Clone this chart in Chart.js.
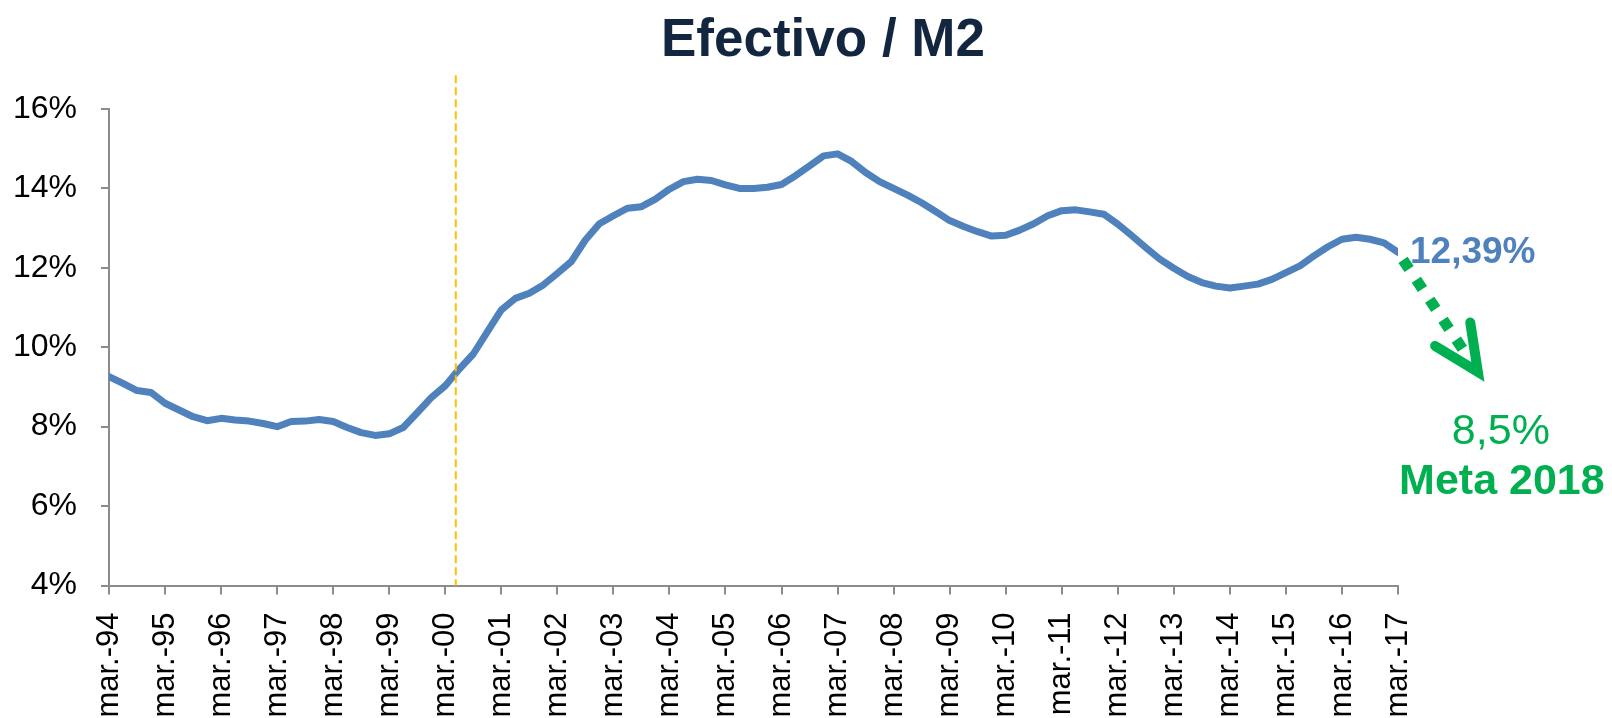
<!DOCTYPE html>
<html>
<head>
<meta charset="utf-8">
<title>Efectivo / M2</title>
<script src="https://cdn.jsdelivr.net/npm/chart.js@4.4.1/dist/chart.umd.min.js"></script>
<style>
  html, body { margin: 0; padding: 0; background: #fff; }
</style>
</head>
<body>
<canvas id="chart" width="1612" height="718"></canvas>
<script>
// Efectivo / M2 - quarterly series, mar.-94 to mar.-17 (x = quarter index)

const yearLabels = [
    'mar.-94', 'mar.-95', 'mar.-96', 'mar.-97', 'mar.-98', 'mar.-99',
    'mar.-00', 'mar.-01', 'mar.-02', 'mar.-03', 'mar.-04', 'mar.-05',
    'mar.-06', 'mar.-07', 'mar.-08', 'mar.-09', 'mar.-10', 'mar.-11',
    'mar.-12', 'mar.-13', 'mar.-14', 'mar.-15', 'mar.-16', 'mar.-17'
];

const efectivoM2 = [
    9.26, 9.09, 8.91, 8.86, 8.59, 8.42, 8.25, 8.15,   // 94-95
    8.21, 8.17, 8.14, 8.08, 8.00, 8.13, 8.14, 8.18,   // 96-97
    8.13, 7.98, 7.85, 7.78, 7.82, 7.98, 8.35, 8.73,   // 98-99
    9.03, 9.45, 9.83, 10.39, 10.94, 11.23, 11.36, 11.57, // 00-01
    11.86, 12.16, 12.70, 13.11, 13.31, 13.50, 13.54, 13.73, // 02-03
    13.98, 14.17, 14.23, 14.20, 14.09, 14.00, 14.00, 14.03, // 04-05
    14.10, 14.32, 14.57, 14.82, 14.87, 14.68, 14.40, 14.17, // 06-07
    14.00, 13.83, 13.64, 13.42, 13.19, 13.04, 12.91, 12.80, // 08-09
    12.82, 12.95, 13.11, 13.31, 13.44, 13.46, 13.41, 13.35, // 10-11
    13.10, 12.81, 12.51, 12.22, 11.99, 11.78, 11.63, 11.54, // 12-13
    11.49, 11.54, 11.59, 11.71, 11.88, 12.05, 12.30, 12.53, // 14-15
    12.72, 12.77, 12.72, 12.63, 12.39                        // 16-17
];

const yMin = 4;
const yMax = 16;
const yStep = 2;

const chartTitle = 'Efectivo / M2';
const goalValue = '8,5%';
const goalLabel = 'Meta 2018';

// annotation anchors (in data units)
const markerQuarter = 24.75;
const markerTop = 16.85;
const arrowTarget = { x: 97.7, y: 9.38 };

const FONT = '"Liberation Sans", Arial, Helvetica, sans-serif';
const BLUE = '#4f81bd';
const GREEN = '#00b050';
const AXIS = '#8c8c8c';

const annotations = {
    id: 'annotations',
    afterDatasetsDraw(chart) {
        const { ctx, chartArea, scales: { x, y } } = chart;
        ctx.save();

        // orange dashed marker line
        const mx = x.getPixelForValue(markerQuarter);
        ctx.strokeStyle = '#ffc000';
        ctx.lineWidth = 2;
        ctx.setLineDash([8, 4]);
        ctx.beginPath();
        ctx.moveTo(mx, y.getPixelForValue(markerTop));
        ctx.lineTo(mx, chartArea.bottom);
        ctx.stroke();

        // last value label
        const last = efectivoM2.length - 1;
        const px = x.getPixelForValue(last);
        const py = y.getPixelForValue(efectivoM2[last]);
        ctx.setLineDash([]);
        ctx.fillStyle = BLUE;
        ctx.font = 'bold 37px ' + FONT;
        ctx.textAlign = 'left';
        ctx.textBaseline = 'alphabetic';
        ctx.fillText(efectivoM2[last].toFixed(2).replace('.', ',') + '%', px + 12, py + 11);

        // green dotted arrow towards the goal
        const tx = x.getPixelForValue(arrowTarget.x);
        const ty = y.getPixelForValue(arrowTarget.y);
        const len = Math.hypot(tx - px, ty - py);
        const dx = (tx - px) / len, dy = (ty - py) / len;
        ctx.strokeStyle = GREEN;
        ctx.lineWidth = 11;
        ctx.lineCap = 'butt';
        ctx.setLineDash([11, 13]);
        ctx.beginPath();
        ctx.moveTo(px + dx * 9, py + dy * 9);
        ctx.lineTo(px + dx * 117, py + dy * 117);
        ctx.stroke();

        const back = Math.atan2(-dy, -dx);
        const arm = 50, spread = 25 * Math.PI / 180;
        ctx.setLineDash([]);
        ctx.lineWidth = 10;
        ctx.lineCap = 'round';
        ctx.lineJoin = 'miter';
        ctx.beginPath();
        ctx.moveTo(tx + Math.cos(back + spread) * arm, ty + Math.sin(back + spread) * arm);
        ctx.lineTo(tx, ty);
        ctx.lineTo(tx + Math.cos(back - spread) * arm, ty + Math.sin(back - spread) * arm);
        ctx.stroke();

        // goal text
        ctx.fillStyle = GREEN;
        ctx.textAlign = 'center';
        ctx.font = '43px ' + FONT;
        ctx.fillText(goalValue, tx + 23, ty + 72);
        ctx.font = 'bold 43px ' + FONT;
        ctx.fillText(goalLabel, tx + 24, ty + 122);

        // title
        ctx.fillStyle = '#13263f';
        ctx.font = 'bold 53px ' + FONT;
        ctx.fillText(chartTitle, chart.width / 2 + 17, 56);

        ctx.restore();
    }
};

new Chart(document.getElementById('chart').getContext('2d'), {
    type: 'line',
    data: {
        datasets: [{
            label: chartTitle,
            data: efectivoM2.map((v, i) => ({ x: i, y: v })),
            borderColor: BLUE,
            borderWidth: 7,
            borderJoinStyle: 'round',
            borderCapStyle: 'round',
            pointRadius: 0,
            tension: 0,
            fill: false
        }]
    },
    options: {
        responsive: false,
        animation: false,
        devicePixelRatio: 1,
        layout: { padding: { left: 0, top: 109, right: 214, bottom: 0 } },
        plugins: {
            legend: { display: false },
            title: { display: false },
            tooltip: { enabled: false }
        },
        scales: {
            x: {
                type: 'linear',
                min: 0,
                max: efectivoM2.length - 1,
                afterFit(scale) { scale.height = 132.5; },
                grid: { drawOnChartArea: false, drawTicks: true, tickLength: 9, color: AXIS, lineWidth: 2 },
                border: { display: true, color: AXIS, width: 2 },
                ticks: {
                    stepSize: 4,
                    autoSkip: false,
                    minRotation: 90,
                    maxRotation: 90,
                    padding: 18,
                    color: '#000',
                    font: { family: FONT, size: 31 },
                    callback: (v) => yearLabels[v / 4]
                }
            },
            y: {
                min: yMin,
                max: yMax,
                afterFit(scale) { scale.width = 109; },
                grid: { drawOnChartArea: false, drawTicks: true, tickLength: 8, color: AXIS, lineWidth: 2 },
                border: { display: true, color: AXIS, width: 2 },
                ticks: {
                    stepSize: yStep,
                    padding: 24,
                    color: '#000',
                    font: { family: FONT, size: 32 },
                    callback: (v) => v + '%'
                }
            }
        }
    },
    plugins: [annotations]
});
</script>
</body>
</html>
